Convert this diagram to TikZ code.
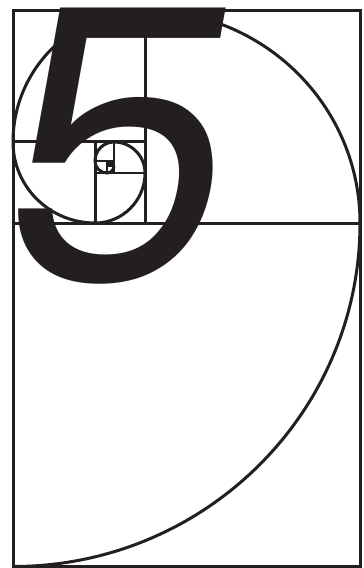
\documentclass[tikz,border=0pt]{standalone}
\usepackage{fontspec}
\newfontfamily\digitfont[FakeSlant=0.18]{Poppins}
\usetikzlibrary{positioning}
\definecolor{ink}{HTML}{231F20}
\tikzset{
  tile/.style={draw=ink, line width=3bp},
  thin/.style={draw=ink, line width=2.2bp},
  spiral/.style={draw=ink, line width=3bp},
  digit/.style={text=ink, inner sep=0pt, font=\digitfont\fontsize{382}{382}\selectfont},
}
\begin{document}
\begin{tikzpicture}[x=1bp, y=-1bp]
  \useasboundingbox (0,0) rectangle (363,568);

  % golden rectangle and its squares
  \draw[tile] (13,10.5) rectangle (360,566.5);
  \foreach \xa/\ya/\xb/\yb in {13/223/360/223, 145/10.5/145/223, 13/142/145/142, 95/142/95/223}{
    \draw[tile] (\xa,\ya) -- (\xb,\yb);
  }
  \foreach \xa/\ya/\xb/\yb in {95/173/145/173, 114/142/114/173, 95/161/114/161, 107/161/107/173, 107/166/114/166}{
    \draw[thin] (\xa,\ya) -- (\xb,\yb);
  }
  \fill[ink] (107,161) rectangle (114,166);

  % spiral, one quarter per square
  \draw[spiral] (13,566.5)
    arc[start angle=90, end angle=0, x radius=347, y radius=343.5]
    arc[start angle=0, end angle=-90, x radius=215, y radius=212.5]
    arc[start angle=-90, end angle=-180, x radius=132, y radius=131.5]
    arc[start angle=180, end angle=90, x radius=82, y radius=81]
    arc[start angle=90, end angle=0, radius=50]
    arc[start angle=0, end angle=-90, radius=31]
    arc[start angle=-90, end angle=-180, radius=19]
    arc[start angle=180, end angle=90, radius=12]
    arc[start angle=90, end angle=0, radius=7];

  % the figure
  \node[digit, anchor=north west] (five) at (10,8) {\kern-33bp 5};
\end{tikzpicture}
\end{document}
